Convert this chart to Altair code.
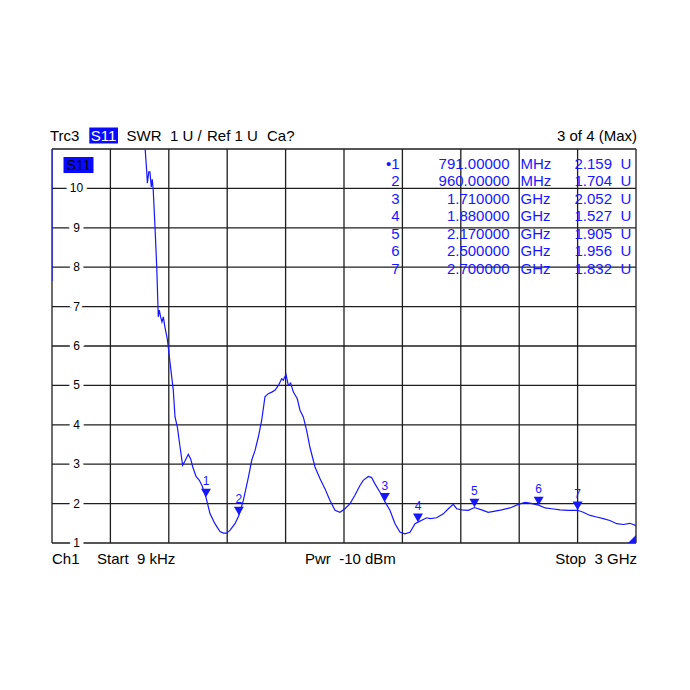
import altair as alt
import pandas as pd

# ---------------- data ----------------
freq_ghz = [0.000009, 0.0015, 0.1, 0.3, 0.470, 0.479, 0.486, 0.490, 0.497, 0.503, 0.510, 0.515, 0.520,
            0.529, 0.538, 0.546, 0.551, 0.558, 0.565, 0.572, 0.580, 0.592, 0.597, 0.611, 0.623, 0.632,
            0.644, 0.658, 0.671, 0.685, 0.700, 0.712, 0.723, 0.740, 0.757, 0.772, 0.791, 0.812, 0.837,
            0.863, 0.880, 0.897, 0.914, 0.940, 0.960, 0.983, 1.009, 1.026, 1.043, 1.060, 1.077, 1.094,
            1.111, 1.129, 1.146, 1.163, 1.180, 1.188, 1.202, 1.214, 1.226, 1.240, 1.260, 1.274, 1.291,
            1.308, 1.325, 1.351, 1.377, 1.402, 1.428, 1.454, 1.479, 1.505, 1.531, 1.556, 1.582, 1.599,
            1.625, 1.642, 1.659, 1.685, 1.710, 1.736, 1.762, 1.788, 1.813, 1.839, 1.865, 1.880, 1.925,
            1.942, 1.976, 2.010, 2.036, 2.061, 2.079, 2.105, 2.139, 2.170, 2.207, 2.241, 2.276, 2.310,
            2.353, 2.395, 2.430, 2.455, 2.500, 2.533, 2.567, 2.610, 2.652, 2.700, 2.729, 2.764, 2.798,
            2.832, 2.866, 2.901, 2.935, 2.969, 3.000]
swr = [7.65, 60, 30, 16, 11.4, 10.97, 10.47, 10.13, 10.42, 10.42, 10.04, 10.23, 9.96,
       9.03, 8.01, 6.74, 6.91, 6.74, 6.61, 6.74, 6.48, 6.19, 5.98, 5.38, 4.88, 4.20,
       3.94, 3.43, 2.97, 3.10, 3.25, 3.14, 2.93, 2.69, 2.59, 2.44, 2.16, 1.74, 1.49,
       1.29, 1.25, 1.25, 1.32, 1.49, 1.70, 2.08, 2.67, 3.10, 3.35, 3.69, 4.11, 4.71,
       4.79, 4.83, 4.88, 5.00, 5.17, 5.13, 5.28, 5.00, 5.06, 4.83, 4.66, 4.37, 4.20,
       3.86, 3.43, 2.93, 2.63, 2.38, 2.08, 1.83, 1.78, 1.87, 2.00, 2.21, 2.46, 2.59,
       2.69, 2.66, 2.50, 2.29, 2.05, 1.83, 1.49, 1.27, 1.23, 1.27, 1.49, 1.53, 1.64,
       1.62, 1.64, 1.74, 1.87, 1.98, 1.87, 1.84, 1.83, 1.90, 1.84, 1.78, 1.81, 1.84,
       1.89, 1.98, 2.03, 2.01, 1.96, 1.89, 1.87, 1.84, 1.83, 1.83, 1.78, 1.70, 1.66,
       1.62, 1.57, 1.49, 1.47, 1.50, 1.44]

marker_ids = [1, 2, 3, 4, 5, 6, 7]
marker_freq_ghz = [0.791, 0.960, 1.710, 1.880, 2.170, 2.500, 2.700]
marker_swr = [2.159, 1.704, 2.052, 1.527, 1.905, 1.956, 1.832]
marker_freq_text = ["791.00000", "960.00000", "1.710000", "1.880000", "2.170000", "2.500000", "2.700000"]
marker_unit = ["MHz", "MHz", "GHz", "GHz", "GHz", "GHz", "GHz"]
active_marker = 1

x_grid = [0.0, 0.3, 0.6, 0.9, 1.2, 1.5, 1.8, 2.1, 2.4, 2.7, 3.0]
y_grid = [1, 2, 3, 4, 5, 6, 7, 8, 9, 10, 11]
y_labels = [1, 2, 3, 4, 5, 6, 7, 8, 9, 10]

NB = "\u00a0"
header_left = ["Trc3", "SWR", "1 U /", "Ref 1 U", "Ca?"]
header_right = "3 of 4 (Max)"
trace_name = "S11"
footer_left = ["Ch1", "Start" + NB + NB + "9 kHz", "Pwr" + NB + NB + "-10 dBm"]
footer_right = "Stop" + NB + NB + "3 GHz"

# ---------------- layout ----------------
W, H = 584, 394
BLUE = "#1717ff"
GRID = "#1e1e1e"
FONT = "Liberation Sans"
FS = 15

xs = alt.Scale(domain=[0, 3], nice=False, zero=False)
ys = alt.Scale(domain=[1, 11], nice=False, zero=False)

one = pd.DataFrame({"a": [0]})

vgrid = alt.Chart(pd.DataFrame({"f": x_grid})).mark_rule(color=GRID, strokeWidth=1.3).encode(
    x=alt.X("f:Q", scale=xs, axis=None))
hgrid = alt.Chart(pd.DataFrame({"v": y_grid})).mark_rule(color=GRID, strokeWidth=1.3).encode(
    y=alt.Y("v:Q", scale=ys, axis=None))

ylab_df = pd.DataFrame({"v": y_labels, "t": [str(v) for v in y_labels]})
ylab_halo = alt.Chart(ylab_df).mark_text(font=FONT, fontSize=12, color="white", stroke="white",
                                          strokeWidth=8).encode(
    x=alt.value(24.5), y=alt.Y("v:Q", scale=ys), text="t:N")
ylab = alt.Chart(ylab_df).mark_text(font=FONT, fontSize=12, color="black").encode(
    x=alt.value(24.5), y=alt.Y("v:Q", scale=ys), text="t:N")

trace = alt.Chart(pd.DataFrame({"f": freq_ghz, "swr": swr})).mark_line(
    color=BLUE, strokeWidth=1.2, clip=True).encode(
    x=alt.X("f:Q", scale=xs), y=alt.Y("swr:Q", scale=ys), order="f:Q")

mk_df = pd.DataFrame({"id": [str(i) for i in marker_ids], "f": marker_freq_ghz, "swr": marker_swr})
mk_tri = alt.Chart(mk_df).mark_point(shape="triangle-down", filled=True, color=BLUE, size=100,
                                      opacity=1, yOffset=-4.3).encode(
    x=alt.X("f:Q", scale=xs), y=alt.Y("swr:Q", scale=ys))
mk_lab = alt.Chart(mk_df).mark_text(font=FONT, fontSize=12, color=BLUE, dy=-16).encode(
    x=alt.X("f:Q", scale=xs), y=alt.Y("swr:Q", scale=ys), text="id:N")

# marker table
tab = pd.DataFrame({
    "id": [("\u2022" if i == active_marker else "") + str(i) for i in marker_ids],
    "freq": marker_freq_text,
    "unit": marker_unit,
    "val": [f"{v:.3f}" for v in marker_swr],
    "u": ["U"] * len(marker_ids),
    "row": list(range(len(marker_ids))),
})
tab["ty"] = 14.5 + tab["row"] * 17.55


def tcol(field, x, align):
    return alt.Chart(tab).mark_text(font=FONT, fontSize=FS, color=BLUE, align=align).encode(
        x=alt.value(x), y=alt.Y("ty:Q", scale=None), text=f"{field}:N")


table = tcol("id", 347.5, "right") + tcol("freq", 457.5, "right") + tcol("unit", 468.5, "left") + \
    tcol("val", 560, "right") + tcol("u", 568.5, "left")

# S11 label in plot
s11_box = alt.Chart(one).mark_rect(color="#0a0aff").encode(
    x=alt.value(11.5), x2=alt.value(41.5), y=alt.value(8), y2=alt.value(24))
s11_txt = alt.Chart(one).mark_text(font=FONT, fontSize=14.5, color="black").encode(
    x=alt.value(26.5), y=alt.value(16.5), text=alt.value(trace_name))

# header
hdr_x = [-2, 74.5, 118, 155, 215]
hdr_df = pd.DataFrame({"t": header_left, "hx": hdr_x})
hdr = alt.Chart(hdr_df).mark_text(font=FONT, fontSize=FS, color="black", align="left").encode(
    x=alt.X("hx:Q", scale=None), y=alt.value(-13), text="t:N")
hdr_r = alt.Chart(one).mark_text(font=FONT, fontSize=FS, color="black", align="right").encode(
    x=alt.value(585), y=alt.value(-13), text=alt.value(header_right))
hdr_box = alt.Chart(one).mark_rect(color="#0a0aff").encode(
    x=alt.value(37.3), x2=alt.value(66), y=alt.value(-21.5), y2=alt.value(-5.5))
hdr_s11 = alt.Chart(one).mark_text(font=FONT, fontSize=FS, color="white").encode(
    x=alt.value(51.6), y=alt.value(-13), text=alt.value(trace_name))

# footer
ftr_df = pd.DataFrame({"t": footer_left, "fx": [0, 45, 253]})
ftr = alt.Chart(ftr_df).mark_text(font=FONT, fontSize=FS, color="black", align="left").encode(
    x=alt.X("fx:Q", scale=None), y=alt.value(410), text="t:N")
ftr_r = alt.Chart(one).mark_text(font=FONT, fontSize=FS, color="black", align="right").encode(
    x=alt.value(585), y=alt.value(410), text=alt.value(footer_right))

# reference level marker (bottom right)
ref_df = pd.DataFrame({"f": [3.0], "v": [1.0]})
ref_tri = alt.Chart(ref_df).mark_point(shape="M0,0 L-1,0 L0,-1 Z", filled=True, color=BLUE,
                                        size=256, opacity=1).encode(
    x=alt.X("f:Q", scale=xs), y=alt.Y("v:Q", scale=ys))

chart = alt.layer(
    vgrid, hgrid, table, trace, ylab_halo, ylab, mk_tri, mk_lab, s11_box, s11_txt,
    hdr, hdr_r, hdr_box, hdr_s11, ftr, ftr_r, ref_tri
).properties(
    width=W, height=H,
    autosize=alt.AutoSizeParams(type="none"),
    padding={"left": 44, "top": 141, "right": 46, "bottom": 120},
    background="white",
).configure_view(strokeWidth=0)

chart.save("out.html", embed_options={"renderer": "svg", "actions": False})
